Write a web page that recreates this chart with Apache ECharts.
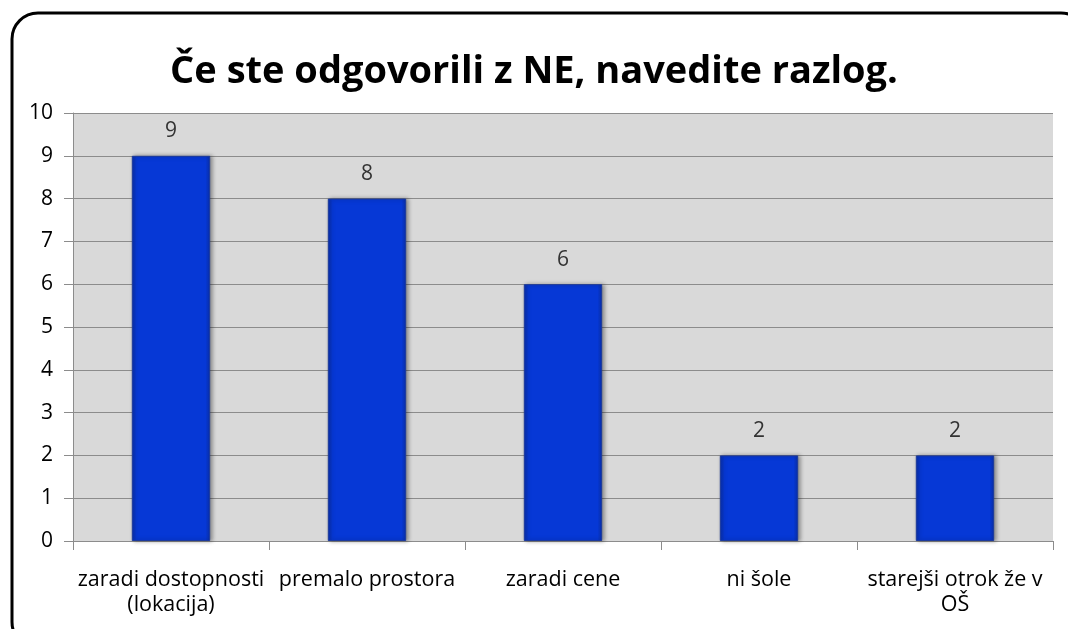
<!DOCTYPE html>
<html>
<head>
<meta charset="utf-8">
<script src="https://cdn.jsdelivr.net/npm/echarts@6/dist/echarts.min.js"></script>
<style>
  html, body { margin: 0; padding: 0; background: #fff; }
  #main { width: 1068px; height: 629px; }
</style>
</head>
<body>
<div id="main"></div>
<script>
var categories = ["zaradi dostopnosti\n(lokacija)", "premalo prostora", "zaradi cene", "ni šole", "starejši otrok že v\nOŠ"];
var values = [9, 8, 6, 2, 2];
var titleText = "Če ste odgovorili z NE, navedite razlog.";

var chartDom = document.getElementById("main");
var myChart = echarts.init(chartDom);

var option = {
  animation: false,
  textStyle: { fontFamily: "Open Sans" },
  title: {
    text: titleText,
    left: "center",
    top: 48,
    textStyle: { fontSize: 38, fontWeight: "bold", color: "#000", fontFamily: "Open Sans" }
  },
  graphic: [
    {
      type: "rect",
      z: -10,
      shape: { x: 12, y: 13, width: 1075, height: 635, r: 26 },
      style: { fill: "#fff", stroke: "#000", lineWidth: 3 }
    }
  ],
  grid: {
    left: 73, right: 15, top: 113, bottom: 88,
    show: true, backgroundColor: "#d9d9d9", borderWidth: 0
  },
  xAxis: {
    type: "category",
    data: categories,
    axisLine: { show: true, lineStyle: { color: "#8c8c8c", width: 1 } },
    axisTick: { show: true, alignWithLabel: false, length: 9, lineStyle: { color: "#8c8c8c" } },
    axisLabel: { interval: 0, color: "#000", fontSize: 21.5, fontFamily: "Open Sans", margin: 26, lineHeight: 25 }
  },
  yAxis: {
    type: "value",
    min: 0, max: 10, interval: 1,
    axisLine: { show: true, lineStyle: { color: "#8c8c8c" } },
    axisTick: { show: true, length: 9, lineStyle: { color: "#8c8c8c" } },
    axisLabel: { color: "#000", fontSize: 21, fontFamily: "Open Sans", margin: 20 },
    splitLine: { show: true, lineStyle: { color: "#8c8c8c", width: 1 } }
  },
  series: [
    {
      type: "bar",
      data: values,
      barWidth: "40%",
      itemStyle: {
        color: new echarts.graphic.LinearGradient(0, 0, 1, 0, [
          { offset: 0, color: "#0a2fa8" },
          { offset: 0.06, color: "#0638d6" },
          { offset: 0.94, color: "#0638d6" },
          { offset: 1, color: "#0a2fa8" }
        ]),
        borderColor: "#1c3a9c",
        borderWidth: 1,
        shadowColor: "rgba(0,0,0,0.35)",
        shadowBlur: 4,
        shadowOffsetX: 2
      },
      label: {
        show: true,
        position: "top",
        distance: 14,
        color: "#333",
        fontSize: 21,
        fontFamily: "Open Sans"
      }
    }
  ]
};

option && myChart.setOption(option);
</script>
</body>
</html>
